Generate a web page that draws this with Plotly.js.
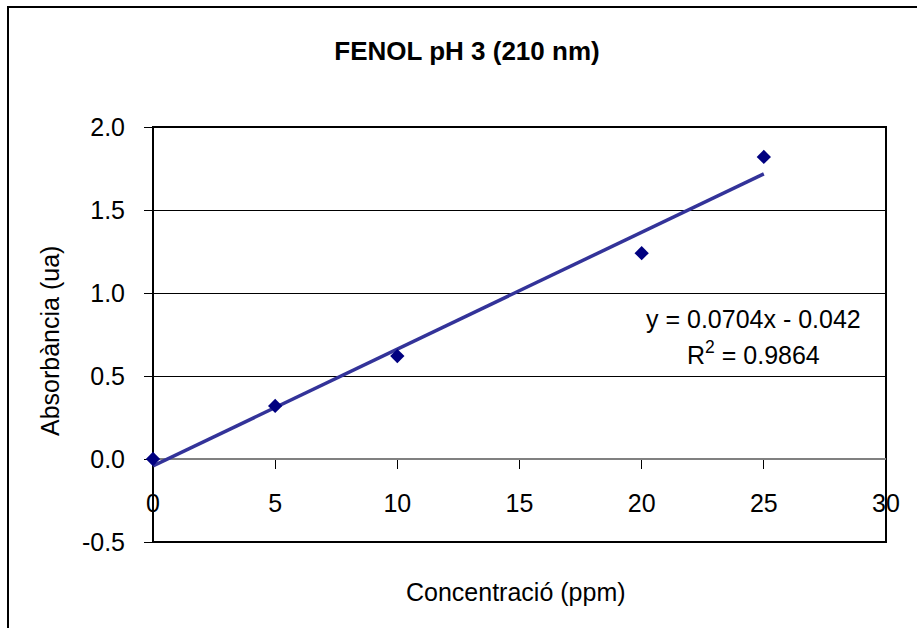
<!DOCTYPE html>
<html>
<head>
<meta charset="utf-8">
<script src="https://cdn.plot.ly/plotly-3.0.1.min.js"></script>
<style>html,body{margin:0;padding:0;background:#fff;}#chart{width:917px;height:628px;}</style>
</head>
<body>
<div id="chart"></div>
<script>
// Data
const concentration = [0, 5, 10, 20, 25];
const absorbance = [0.00, 0.32, 0.62, 1.24, 1.82];
// Trendline (as displayed on the chart)
const slope = 0.0704;
const intercept = -0.042;
const trendX = [0, 25];
const trendY = trendX.map(x => slope * x + intercept);
const xTicks = [0, 5, 10, 15, 20, 25, 30];
const yTicks = [-0.5, 0.0, 0.5, 1.0, 1.5, 2.0];

const FONT = '"Liberation Sans", Arial, sans-serif';

const traces = [
  {
    x: trendX, y: trendY, type: 'scatter', mode: 'lines',
    line: {color: '#333399', width: 3.5}, hoverinfo: 'skip', showlegend: false,
    cliponaxis: false
  },
  {
    x: concentration, y: absorbance, type: 'scatter', mode: 'markers',
    marker: {symbol: 'diamond', size: 11, color: '#000080', line: {width: 0}},
    showlegend: false, cliponaxis: false
  }
];

const layout = {
  width: 917, height: 628,
  margin: {l: 153, r: 31, t: 127, b: 86, pad: 0},
  paper_bgcolor: '#ffffff', plot_bgcolor: '#ffffff',
  font: {family: FONT, color: '#000000', size: 25},
  showlegend: false,
  title: {
    text: '<b>FENOL pH 3 (210 nm)</b>',
    font: {family: FONT, size: 26, color: '#000'},
    x: 467/917, xanchor: 'center', xref: 'container',
    y: 1 - 51/628, yanchor: 'middle', yref: 'container'
  },
  xaxis: {
    range: [0, 30], tickvals: xTicks, ticktext: xTicks.map(String),
    anchor: 'free', position: 0.2,
    showgrid: false, zeroline: false,
    showline: true, linecolor: '#808080', linewidth: 2,
    ticks: 'outside', ticklen: 9, tickwidth: 1, tickcolor: '#000',
    ticklabelstandoff: 13,
    tickfont: {family: FONT, size: 25, color: '#000'},
    layer: 'below traces',
    fixedrange: true
  },
  yaxis: {
    range: [-0.5, 2.0], tickvals: yTicks, ticktext: yTicks.map(v => v.toFixed(1)),
    showgrid: true, gridcolor: '#000', gridwidth: 1,
    zeroline: false, showline: false,
    ticks: 'outside', ticklen: 8, tickwidth: 1, tickcolor: '#000',
    ticklabelstandoff: 14,
    tickfont: {family: FONT, size: 25, color: '#000'},
    layer: 'below traces',
    fixedrange: true
  },
  shapes: [
    {type: 'rect', xref: 'paper', yref: 'paper', x0: 0, x1: 1, y0: 0, y1: 1,
     line: {color: '#000', width: 2}, fillcolor: 'rgba(0,0,0,0)', layer: 'below'},
    {type: 'rect', xref: 'paper', yref: 'paper', x0: (8-153)/733, x1: 1.1, y0: -0.3, y1: (542-7)/415,
     line: {color: '#000', width: 2}, fillcolor: 'rgba(0,0,0,0)', layer: 'above'}
  ],
  annotations: [
    {text: 'Concentració (ppm)', xref: 'paper', yref: 'paper',
     x: (516-153)/733, y: (542-592)/415, xanchor: 'center', yanchor: 'middle',
     showarrow: false, font: {family: FONT, size: 25, color: '#000'}},
    {text: 'Absorbància (ua)', xref: 'paper', yref: 'paper',
     x: (50-153)/733, y: (542-341)/415, xanchor: 'center', yanchor: 'middle',
     textangle: -90, showarrow: false, font: {family: FONT, size: 25, color: '#000'}},
    {text: 'y = 0.0704x - 0.042', xref: 'paper', yref: 'paper',
     x: (753-153)/733, y: (542-319)/415, xanchor: 'center', yanchor: 'middle',
     showarrow: false, font: {family: FONT, size: 25, color: '#000'}},
    {text: 'R<sup>2</sup> = 0.9864', xref: 'paper', yref: 'paper',
     x: (753-153)/733, y: (542-353)/415, xanchor: 'center', yanchor: 'middle',
     showarrow: false, font: {family: FONT, size: 25, color: '#000'}}
  ]
};

Plotly.newPlot('chart', traces, layout, {displayModeBar: false, staticPlot: true});
</script>
</body>
</html>
